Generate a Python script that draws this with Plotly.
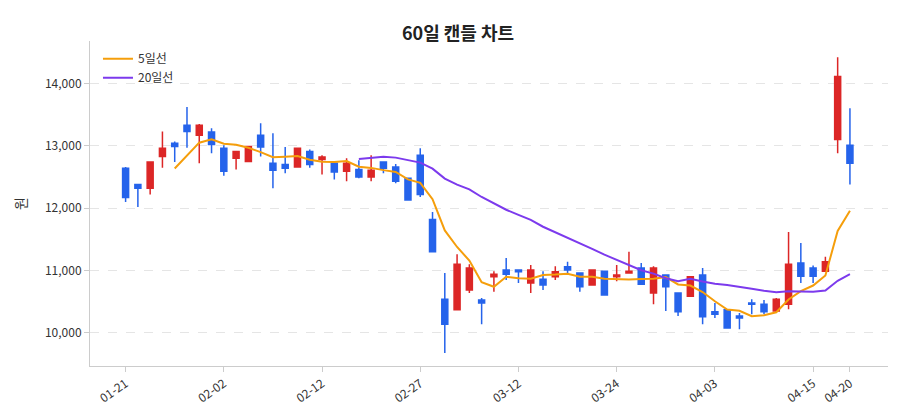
import plotly.graph_objects as go
import pandas as pd

dates = ["2026-01-21","2026-01-22","2026-01-23","2026-01-26","2026-01-27","2026-01-28","2026-01-29","2026-01-30",
"2026-02-02","2026-02-03","2026-02-04","2026-02-05","2026-02-06","2026-02-09","2026-02-10","2026-02-11","2026-02-12",
"2026-02-13","2026-02-19","2026-02-20","2026-02-23","2026-02-24","2026-02-25","2026-02-26","2026-02-27",
"2026-03-03","2026-03-04","2026-03-05","2026-03-06","2026-03-09","2026-03-10","2026-03-11","2026-03-12",
"2026-03-13","2026-03-16","2026-03-17","2026-03-18","2026-03-19","2026-03-20","2026-03-23","2026-03-24",
"2026-03-25","2026-03-26","2026-03-27","2026-03-30","2026-03-31","2026-04-01","2026-04-02","2026-04-03",
"2026-04-06","2026-04-07","2026-04-08","2026-04-09","2026-04-10","2026-04-13","2026-04-14","2026-04-15",
"2026-04-16","2026-04-17","2026-04-20"]
opens = [12640,12380,12320,12830,13040,13330,13170,13220,12960,12800,12750,13170,12720,12700,12660,12910,12780,
12720,12590,12620,12500,12740,12660,12480,12850,11820,10540,10370,10690,10530,10900,11010,11010,10800,10860,
10900,11060,10960,10770,10990,10900,10960,11040,10640,10930,10640,10590,10930,10340,10370,10270,10480,10460,
10350,10460,11120,11040,10990,13100,13010]
highs = [12660,12380,12740,13230,13070,13620,13350,13280,13010,12910,12990,13360,13200,12980,12960,12940,12850,
12720,12800,12770,12850,12740,12710,12480,12960,11940,10960,11260,11100,10560,10990,11200,11010,11090,10990,
11070,11140,10960,11020,11000,11090,11300,11120,11070,10930,10640,10900,11040,10480,10370,10320,10540,10530,
10560,11620,11440,11080,11220,14420,13600]
lows = [12100,12020,12220,12650,12740,12970,12720,12880,12520,12620,12740,12830,12320,12560,12660,12650,12540,
12460,12430,12480,12430,12560,12400,12130,12180,11300,9680,10370,10640,10140,10660,10850,10800,10640,10690,
10850,10960,10660,10770,10610,10830,10960,10770,10460,10350,10270,10590,10140,10240,10080,10060,10300,10300,
10330,10380,10800,10800,10990,12880,12380]
closes = [12170,12320,12740,12960,12990,13230,13330,13020,12590,12910,12990,12980,12610,12640,12960,12700,12820,
12580,12720,12500,12610,12640,12430,12130,12220,11300,10140,11100,11040,10480,10940,10940,10980,11010,10770,
10980,11010,10740,11010,10610,10930,10990,10780,11040,10740,10340,10900,10260,10300,10080,10240,10460,10340,
10540,11100,10910,10910,11140,14110,12720]

s = pd.Series(closes)
ma5 = s.rolling(5).mean()
ma20 = s.rolling(20).mean()

tick_idx = [0, 8, 16, 24, 32, 40, 48, 56, 59]
tickvals = [dates[i] for i in tick_idx]
ticktext = [d[5:] for d in tickvals]

fig = go.Figure()
fig.add_trace(go.Candlestick(x=dates, open=opens, high=highs, low=lows, close=closes,
    increasing=dict(line=dict(color="#dc2626", width=1.5), fillcolor="#dc2626"),
    decreasing=dict(line=dict(color="#2563eb", width=1.5), fillcolor="#2563eb"),
    showlegend=False, whiskerwidth=0))
fig.add_trace(go.Scatter(x=dates, y=ma5, mode="lines", name="5일선", line=dict(color="#f59e0b", width=2)))
fig.add_trace(go.Scatter(x=dates, y=ma20, mode="lines", name="20일선", line=dict(color="#7c3aed", width=2)))

fig.update_layout(
    width=900, height=420,
    font=dict(family="Noto Sans CJK KR", size=12, color="#333"),
    title=dict(text="<b>60일 캔들 차트</b>", x=0.5, y=0.955, xanchor="center", font=dict(size=18, color="#222")),
    margin=dict(l=79, r=20, t=33, b=62),
    plot_bgcolor="white", paper_bgcolor="white",
    legend=dict(x=0.01, y=0.99, xanchor="left", yanchor="top", bgcolor="rgba(255,255,255,0)", font=dict(size=12)),
    xaxis=dict(type="category", rangeslider=dict(visible=False), tickmode="array", tickvals=tickvals,
               ticktext=ticktext, tickangle=-35, range=[-2.9, 62.1], showgrid=False,
               showline=True, linecolor="#ccc", ticks="outside", tickcolor="#ccc"),
    yaxis=dict(title=dict(text="원"), range=[9470, 14680], tickformat=",", dtick=1000,
               showgrid=True, gridcolor="#e5e5e5", griddash="dash", zeroline=False,
               showline=True, linecolor="#ccc", ticks="outside", tickcolor="#ccc"),
)
fig.write_html("out.html")
